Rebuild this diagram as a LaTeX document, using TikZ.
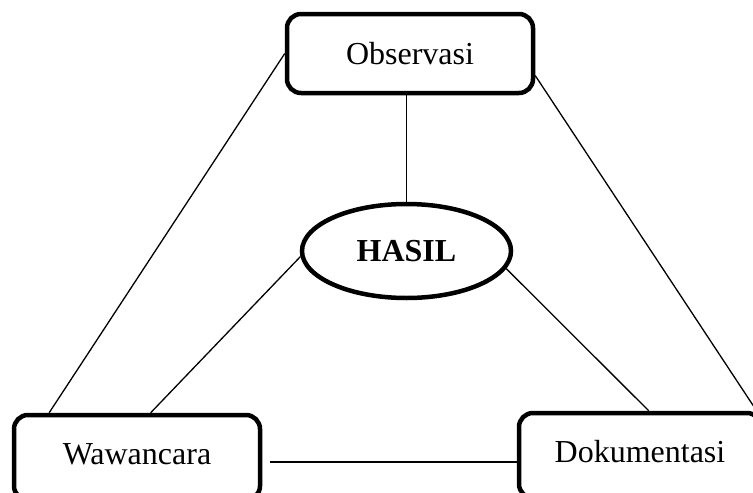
\documentclass[tikz,border=0pt]{standalone}
\usepackage{fontspec}
\setmainfont{Liberation Serif}
\usetikzlibrary{shapes.geometric}
\begin{document}
\begin{tikzpicture}[x=1pt,y=-1pt,
  box/.style={draw,line width=4.5pt,rounded corners=14pt,inner sep=0pt,
    font=\fontsize{32}{38}\selectfont},
  oval/.style={draw,ellipse,line width=4.5pt,inner sep=0pt,minimum width=209pt,minimum height=94pt,
    font=\fontsize{32}{38}\selectfont\bfseries},
  conn/.style={line width=1.3pt}]
\useasboundingbox (0,0) rectangle (753,493);
\clip (0,0) rectangle (753,493);
\node[box,minimum width=246pt,minimum height=79pt] (obs) at (410,53.5) {Observasi};
\node[oval] (hasil) at (406.5,251) {HASIL};
\node[box,minimum width=246pt,minimum height=85pt,text depth=7pt] (waw) at (137,457.5) {Wawancara};
\node[box,minimum width=242pt,minimum height=85pt,text depth=9pt] (doc) at (640,455.5) {Dokumentasi};
\draw[conn] (obs.west) -- (waw.153.4);
\draw[conn] (obs.-10) -- (doc.21);
\draw[conn] (hasil.north) -- (hasil.north |- obs.south);
\draw[conn] (hasil.183) -- (waw.73);
\draw[conn] (hasil.-10) -- (doc.79);
\draw[conn] ([xshift=8pt]waw.-2.1) -- (doc.west |- waw.-2.1);
\end{tikzpicture}
\end{document}
